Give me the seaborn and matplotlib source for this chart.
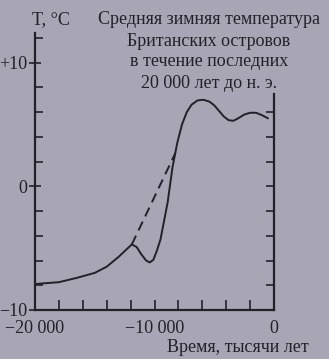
import matplotlib
matplotlib.use("Agg")
import matplotlib.pyplot as plt
import seaborn as sns
import pandas as pd

# ---- data ----
years = [-20000, -18000, -16500, -15000, -14000, -13000, -12400, -11900, -11500,
         -11100, -10700, -10400, -10100, -9800, -9500, -9200, -8900, -8500,
         -8100, -7700, -7300, -6900, -6400, -5900, -5400, -5000, -4600, -4200,
         -3800, -3400, -3000, -2500, -2000, -1500, -1000, -500]
temps = [-7.9, -7.75, -7.4, -7.0, -6.5, -5.7, -5.15, -4.7, -4.9,
         -5.5, -6.0, -6.15, -5.95, -5.2, -4.3, -2.8, -1.3, 1.5,
         3.5, 5.0, 6.0, 6.6, 6.95, 7.0, 6.85, 6.55, 6.1, 5.65,
         5.35, 5.3, 5.5, 5.8, 5.95, 5.95, 5.75, 5.5]
dash_years = [-11900, -8250]
dash_temps = [-4.7, 2.7]

x_ticks = [-20000, -10000, 0]
x_tick_labels = ["\u221220 000", "\u221210 000", "0"]
y_ticks = [-10, 0, 10]
y_tick_labels = ["\u221210", "0", "+10"]
title_lines = ["Средняя зимняя температура", "Британских островов",
               "в течение последних", "20 000 лет до н. э."]
y_label = "T, °C"
x_label = "Время, тысячи лет"

BG = "#a8a6b4"
INK = "#222128"
FS = 13

sns.set_theme(style="ticks")
plt.rcParams["font.family"] = ["Liberation Serif", "DejaVu Serif"]

W, H = 329, 359
fig = plt.figure(figsize=(W / 100, H / 100), dpi=100, facecolor=BG)
ax = fig.add_axes([35 / W, 49 / H, 239 / W, 277 / H])
ax.set_facecolor(BG)

df = pd.DataFrame({"year": years, "temp": temps})
dd = pd.DataFrame({"year": dash_years, "temp": dash_temps})
sns.lineplot(data=df, x="year", y="temp", ax=ax, color=INK, lw=1.4, sort=False)
sns.lineplot(data=dd, x="year", y="temp", ax=ax, color=INK, lw=1.4,
             linestyle=(0, (5, 3)), sort=False)

ax.set_xlim(-20000, 0)
ax.set_ylim(-10, 12.4)
ax.set_xlabel("")
ax.set_ylabel("")

for s in ["left", "bottom", "right"]:
    ax.spines[s].set_color(INK)
    ax.spines[s].set_linewidth(1.6)
ax.spines["top"].set_visible(False)
ax.spines["right"].set_bounds(-10, 7.5)

ax.set_xticks(x_ticks)
ax.set_xticklabels(x_tick_labels, fontsize=FS, color=INK)
ax.set_xticks(list(range(-18000, 0, 2000)), minor=True)
ax.tick_params(axis="x", which="both", direction="in", length=7, width=1.2,
               color=INK, pad=7)

ax.set_yticks(y_ticks)
ax.set_yticklabels(y_tick_labels, fontsize=FS, color=INK)
ax.set_yticks([-8, -6, -4, -2, 2, 4, 6, 8, 12], minor=True)
ax.tick_params(axis="y", which="major", direction="inout", length=9, width=1.2,
               color=INK, pad=1)
ax.tick_params(axis="y", which="minor", direction="in", length=6, width=1.2,
               color=INK)

sec = ax.secondary_yaxis("right")
sec.set_yticks([-8, -6, -4, -2, 0, 2, 4, 6])
sec.tick_params(direction="in", length=6, width=1.2, color=INK, labelright=False)
sec.spines["right"].set_visible(False)

fig.text(51 / W, 1 - 20 / H, y_label, ha="center", va="center",
         fontsize=FS, color=INK)
for i, line in enumerate(title_lines):
    fig.text(209 / W, 1 - (20 + 21 * i) / H, line, ha="center", va="center",
             fontsize=FS, color=INK)
fig.text(238 / W, 1 - 348 / H, x_label, ha="center", va="center",
         fontsize=FS, color=INK)

fig.savefig("out.png", dpi=100, facecolor=BG)
